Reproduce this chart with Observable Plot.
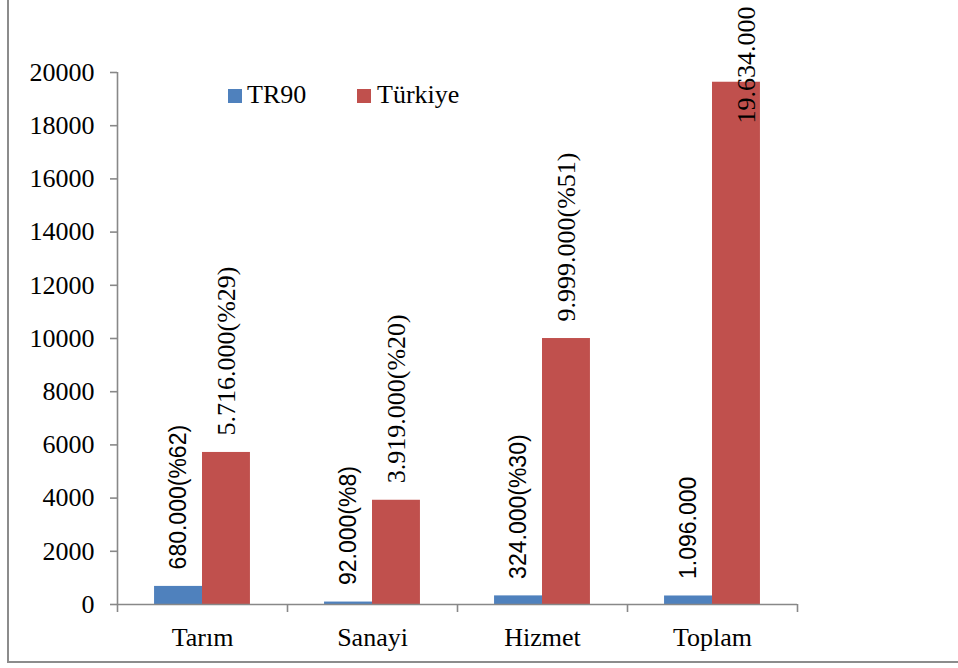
<!DOCTYPE html>
<html>
<head>
<meta charset="utf-8">
<script src="https://cdn.jsdelivr.net/npm/d3@7"></script>
<script src="https://cdn.jsdelivr.net/npm/@observablehq/plot@0.6"></script>
<style>
  html, body { margin: 0; padding: 0; background: #fff; }
  #wrap { position: relative; width: 958px; height: 668px; overflow: hidden; }
  #frame { position: absolute; left: 7px; top: -4px; width: 960px; height: 667px;
           border-left: 2px solid #8c8c8c; border-bottom: 2px solid #8c8c8c; box-sizing: border-box; }
  .lg-sw { position: absolute; width: 14px; height: 14px; }
  .lg-tx { position: absolute; font: 26px "Liberation Serif", serif; line-height: 26px; color: #000; white-space: nowrap; }
  #wrap svg { position: absolute; left: 0; top: 0; }
</style>
</head>
<body>
<div id="wrap"><div id="frame"></div></div>
<script>
// ---- data ----
const categories = ["Tarım", "Sanayi", "Hizmet", "Toplam"];
const seriesNames = ["TR90", "Türkiye"];
const seriesColors = ["#4F81BD", "#C0504D"];
const tr90Values = [680, 92, 324, 320];
const turkiyeValues = [5716, 3919, 9999, 19634];
const tr90Labels = ["680.000(%62)", "92.000(%8)", "324.000(%30)", "1.096.000"];
const turkiyeLabels = ["5.716.000(%29)", "3.919.000(%20)", "9.999.000(%51)", "19.634.000"];
const yTicks = [0, 2000, 4000, 6000, 8000, 10000, 12000, 14000, 16000, 18000, 20000];

// ---- table built from the arrays ----
const rows = [];
categories.forEach((c, i) => {
  rows.push({cat: c, i, series: seriesNames[0], value: tr90Values[i], label: tr90Labels[i]});
  rows.push({cat: c, i, series: seriesNames[1], value: turkiyeValues[i], label: turkiyeLabels[i]});
});
const yMax = yTicks[yTicks.length - 1];
const barW = 0.282; // fraction of category width per bar
const left = d => d.series === seriesNames[0];
const x1 = d => d.i + 0.5 - (left(d) ? barW : 0);
const x2 = d => d.i + 0.5 + (left(d) ? 0 : barW);
const xc = d => d.i + 0.5 + (left(d) ? -barW / 2 : barW / 2);

const blueRows = rows.filter(left);
const redRows = rows.filter(d => !left(d));
const redFit = redRows.filter(d => d.value < yMax * 0.9);
const redOver = redRows.filter(d => d.value >= yMax * 0.9);

const axisColor = "#888888";
const serif = "'Liberation Serif', serif";
const sans = "'Liberation Sans', sans-serif";

const chart = Plot.plot({
  width: 958,
  height: 668,
  marginLeft: 117,
  marginRight: 161,
  marginTop: 72,
  marginBottom: 64,
  style: {background: "transparent", fontFamily: serif, fontSize: "26px", overflow: "visible"},
  x: {domain: [0, categories.length], axis: null},
  y: {domain: [0, yMax], axis: null},
  color: {domain: seriesNames, range: seriesColors},
  marks: [
    Plot.rectY(rows, {x1, x2, y: "value", fill: "series"}),
    Plot.ruleX([0], {y1: 0, y2: yMax, stroke: axisColor, strokeWidth: 1.6}),
    Plot.ruleY([0], {stroke: axisColor, strokeWidth: 1.6}),
    Plot.axisY({ticks: yTicks, label: null, tickSize: 7, tickPadding: 16, stroke: axisColor, strokeWidth: 1.6,
                fill: "#000", fontFamily: serif, fontSize: 26, tickFormat: d => String(d)}),
    Plot.axisX({ticks: d3.range(0, categories.length + 1), label: null, tickSize: 8, stroke: axisColor,
                strokeWidth: 1.6, tickFormat: () => ""}),
    Plot.axisX({ticks: categories.map((c, i) => i + 0.5), label: null, tickSize: 0, tickPadding: 23,
                fill: "#000", fontFamily: serif, fontSize: 26,
                tickFormat: v => categories[Math.floor(v)]}),
    Plot.text(blueRows, {x: xc, y: "value", text: "label", rotate: -90, textAnchor: "start",
                         dy: -17, fill: "#000", fontFamily: sans, fontSize: 23}),
    Plot.text(redFit, {x: xc, y: "value", text: "label", rotate: -90, textAnchor: "start",
                       dy: -17, fill: "#000", fontFamily: serif, fontSize: 26}),
    Plot.text(redOver, {x: xc, frameAnchor: "top", text: "label", rotate: -90, textAnchor: "end",
                        dy: -66, fill: "#000", fontFamily: serif, fontSize: 26})
  ]
});

const wrap = document.getElementById("wrap");
wrap.appendChild(chart);

// legend (inside the plot area, as in the reference)
const legendItems = [
  {name: seriesNames[0], color: seriesColors[0], sx: 228, tx: 247},
  {name: seriesNames[1], color: seriesColors[1], sx: 357, tx: 377}
];
legendItems.forEach(it => {
  const sw = document.createElement("div");
  sw.className = "lg-sw";
  sw.style.left = it.sx + "px";
  sw.style.top = "89px";
  sw.style.background = it.color;
  wrap.appendChild(sw);
  const tx = document.createElement("div");
  tx.className = "lg-tx";
  tx.style.left = it.tx + "px";
  tx.style.top = "82px";
  tx.textContent = it.name;
  wrap.appendChild(tx);
});
</script>
</body>
</html>
